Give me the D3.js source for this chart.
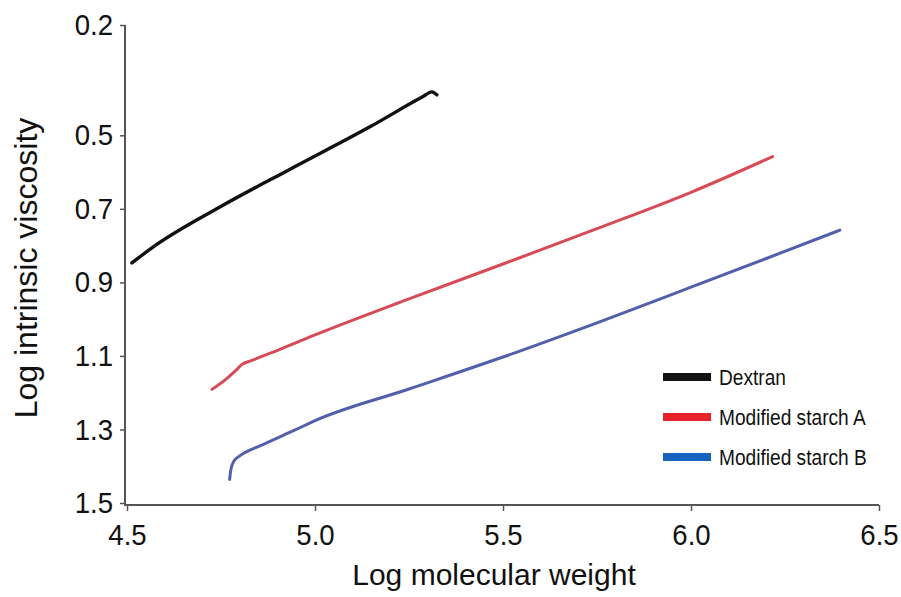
<!DOCTYPE html>
<html><head><meta charset="utf-8">
<script src="https://cdn.jsdelivr.net/npm/d3@7"></script>
<style>body{margin:0;background:#fff}</style>
</head><body>
<svg id="c" width="901" height="597"></svg>
<script>
const xTicks = [4.5, 5.0, 5.5, 6.0, 6.5];
const yTicks = [0.2, 0.5, 0.7, 0.9, 1.1, 1.3, 1.5];
const seriesNames = ["Dextran", "Modified starch A", "Modified starch B"];
const dextran = [[4.513,0.847],[4.569,0.804],[4.747,0.695],[4.934,0.592],[5.146,0.477],[5.285,0.396],[5.311,0.382],[5.324,0.390]];
const starchA = [[4.726,1.191],[4.761,1.165],[4.789,1.140],[4.806,1.123],[4.830,1.113],[4.900,1.085],[5.000,1.043],[5.250,0.945],[5.500,0.850],[5.750,0.754],[6.000,0.655],[6.217,0.558]];
const starchB = [[4.773,1.436],[4.776,1.410],[4.785,1.385],[4.800,1.372],[4.860,1.342],[4.950,1.300],[5.000,1.276],[5.250,1.190],[5.500,1.103],[5.750,1.010],[6.000,0.913],[6.200,0.835],[6.396,0.758]];

const lineColors = ["#111111", "#d64b55", "#5060aa"];
const legendColors = ["#111111", "#e8222a", "#1464c0"];
const font = "'Liberation Sans',Arial,sans-serif";

const svg = d3.select("#c");
const x = d3.scaleLinear().domain([4.5, 6.5]).range([127, 879]);
const y = d3.scaleLinear().domain([0.2, 1.5]).range([25, 503]);

function squeeze(sel, s) {
  sel.each(function() {
    const t = d3.select(this);
    const xa = +t.attr("x") || 0;
    t.attr("transform", `translate(${xa},0) scale(${s},1) translate(${-xa},0)`);
  });
}

// axes
const xAxis = svg.append("g").attr("transform", "translate(0,505)")
  .call(d3.axisBottom(x).tickValues(xTicks).tickFormat(d3.format(".1f")).tickSizeOuter(0).tickSize(6).tickPadding(13));
const yAxis = svg.append("g").attr("transform", "translate(125,0)")
  .call(d3.axisLeft(y).tickValues(yTicks).tickFormat(d3.format(".1f")).tickSizeOuter(0).tickSize(5).tickPadding(7));
[xAxis, yAxis].forEach(g => {
  g.select(".domain").attr("stroke", "#555").attr("stroke-width", 2);
  g.selectAll(".tick line").attr("stroke", "#555").attr("stroke-width", 1.5);
  g.selectAll(".tick text").attr("fill", "#111").style("font-family", font).style("font-size", "30px");
  squeeze(g.selectAll(".tick text"), 0.92);
});
yAxis.select(".domain").attr("d", "M0,25V506");
xAxis.select(".domain").attr("d", "M125,0H879");

// titles
svg.append("text").attr("x", 494).attr("y", 585).attr("text-anchor", "middle")
  .style("font-family", font).style("font-size", "30px").attr("fill", "#111").text("Log molecular weight");
svg.append("text").attr("transform", "translate(37,268) rotate(-90)").attr("text-anchor", "middle")
  .style("font-family", font).style("font-size", "32px").attr("fill", "#111").text("Log intrinsic viscosity");

// lines
const line = d3.line().x(d => x(d[0])).y(d => y(d[1])).curve(d3.curveMonotoneX);
[dextran, starchA, starchB].forEach((s, i) => {
  svg.append("path").datum(s).attr("d", line)
    .attr("fill", "none").attr("stroke", lineColors[i]).attr("stroke-width", i === 0 ? 3.4 : 3)
    .attr("stroke-linecap", "round").attr("stroke-linejoin", "round");
});

// legend
const lg = svg.append("g");
seriesNames.forEach((n, i) => {
  const yy = 377 + i * 40;
  lg.append("rect").attr("x", 663).attr("y", yy - 4).attr("width", 48).attr("height", 8).attr("fill", legendColors[i]);
  const t = lg.append("text").attr("x", 719).attr("y", yy + 8).style("font-family", font).style("font-size", "22px")
    .attr("fill", "#111").text(n);
  squeeze(t, 0.87);
});
</script>
</body></html>
